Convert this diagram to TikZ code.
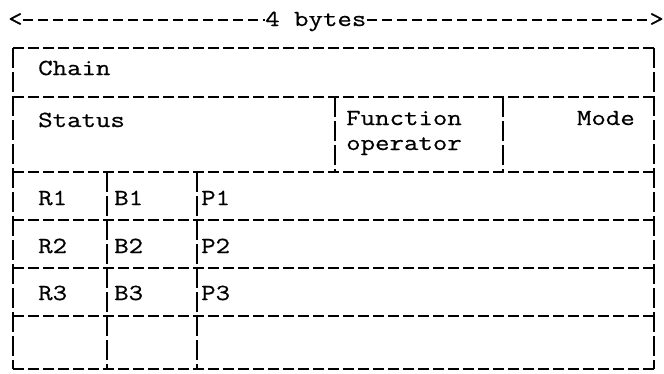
\documentclass[tikz,border=0pt]{standalone}
\usepackage{fontspec}
\setmainfont{Latin Modern Mono}[FakeStretch=1.22,FakeBold=0.6]
\begin{document}
\begin{tikzpicture}[x=1pt,y=-1pt,
  hl/.style={line width=2.3pt, dash pattern=on 11pt off 4pt},
  vl/.style={line width=2.3pt, dash pattern=on 20pt off 4pt},
  al/.style={line width=2pt, dash pattern=on 10pt off 5pt},
  txt/.style={anchor=base west, inner sep=0pt, font=\fontsize{23}{26}\selectfont}]
\useasboundingbox (0,0) rectangle (664,373);
% dimension arrow
\node[txt] (lt) at (8,26) {<};
\node[txt] (lbl) at (265,26) {4 bytes};
\node[txt, anchor=base east] (gt) at (664,26) {>};
\draw[al] (lt.east) -- (lbl.west |- lt.east);
\draw[al] (lbl.east |- gt.west) -- (gt.west);
% horizontal rules
\foreach \y in {48,97,172,220,268,316,369}
  \draw[hl] (13,\y) -- (654,\y);
% vertical rules
\draw[vl] (13,48) -- (13,369);
\draw[vl] (654,48) -- (654,369);
\draw[vl] (335,97) -- (335,172);
\draw[vl] (503,97) -- (503,172);
\draw[vl] (107,172) -- (107,369);
\draw[vl] (197,172) -- (197,369);
% texts
\node[txt] (chain) at (38,75) {Chain};
\node[txt] (status) at (38,127) {Status};
\node[txt] (func) at (346,125) {Function};
\node[txt] (oper) at (346,150) {operator};
\node[txt, anchor=base east] (mode) at (635,125) {Mode};
\node[txt] (r1) at (38,205) {R1};
\node[txt] (b1) at (114,205) {B1};
\node[txt] (p1) at (201,205) {P1};
\node[txt] (r2) at (38,253) {R2};
\node[txt] (b2) at (114,253) {B2};
\node[txt] (p2) at (201,253) {P2};
\node[txt] (r3) at (38,300) {R3};
\node[txt] (b3) at (114,300) {B3};
\node[txt] (p3) at (201,300) {P3};
\end{tikzpicture}
\end{document}
